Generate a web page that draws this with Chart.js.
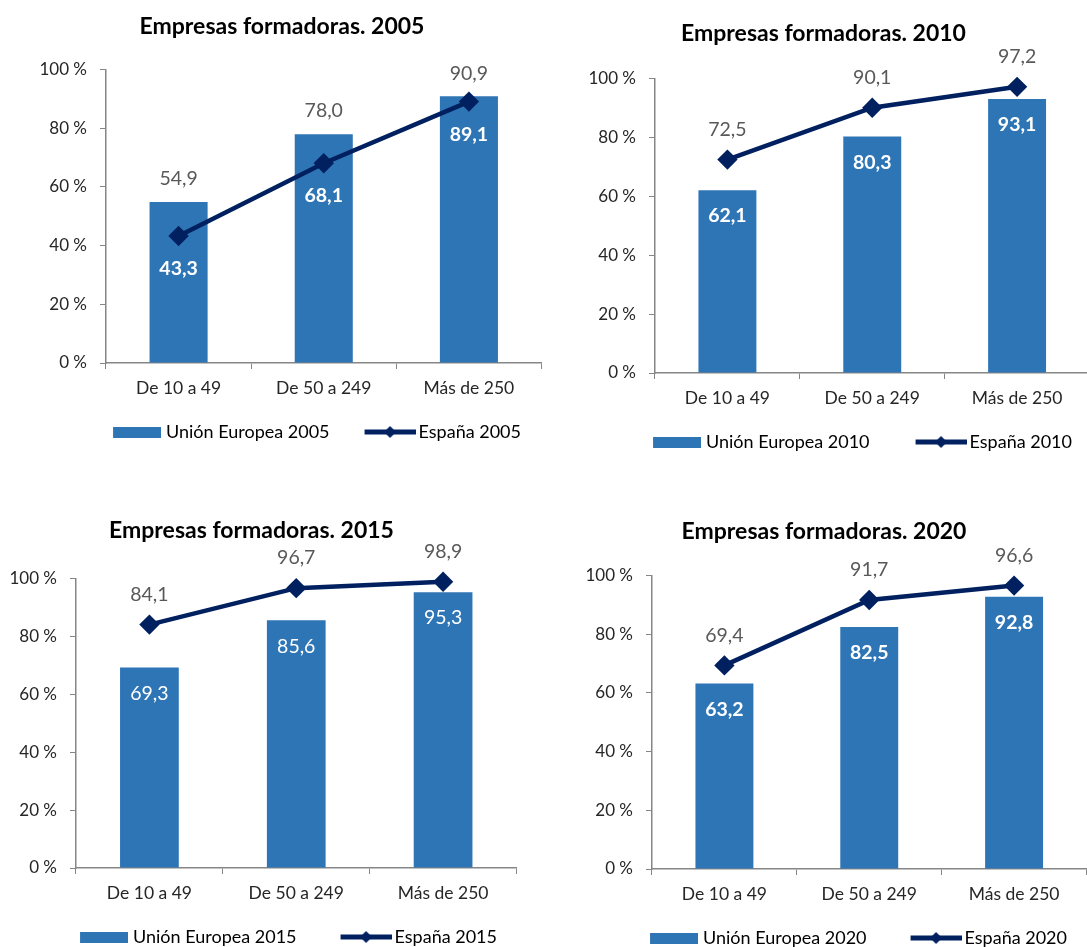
<!DOCTYPE html>
<html lang="es">
<head>
<meta charset="utf-8">
<title>Empresas formadoras</title>
<script src="https://cdn.jsdelivr.net/npm/chart.js@4.4.1/dist/chart.umd.min.js"></script>
<style>
  html, body { margin: 0; padding: 0; background: #fff; overflow: hidden; }
  body { width: 1087px; height: 947px; position: relative; }
  .panel { position: absolute; }
</style>
</head>
<body>
<div class="panel" id="p2005"><canvas id="c2005"></canvas></div>
<div class="panel" id="p2010"><canvas id="c2010"></canvas></div>
<div class="panel" id="p2015"><canvas id="c2015"></canvas></div>
<div class="panel" id="p2020"><canvas id="c2020"></canvas></div>
<script>
// data
const categories = ['De 10 a 49', 'De 50 a 249', 'Más de 250'];
const eu2005 = [54.9, 78.0, 90.9];
const es2005 = [43.3, 68.1, 89.1];
const eu2010 = [62.1, 80.3, 93.1];
const es2010 = [72.5, 90.1, 97.2];
const eu2015 = [69.3, 85.6, 95.3];
const es2015 = [84.1, 96.7, 98.9];
const eu2020 = [63.2, 82.5, 92.8];
const es2020 = [69.4, 91.7, 96.6];
const yMin = 0, yMax = 100, yStep = 20;

const BAR_BLUE = '#2E75B6';
const NAVY = '#002060';
const AXIS_GREY = '#868686';
const LABEL_GREY = '#595959';
const TEXT_DARK = '#262626';
const FONT = 'Lato, "Open Sans", sans-serif';

// where each panel sits and how its labels are styled
const panels = [
    { year: '2005', eu: eu2005, es: es2005, left: 11, top: 0, width: 542, height: 451,
      titlePad: { top: 13, bottom: 29 }, yWidth: 95, rightGap: 2, xHeight: 28,
      legendPad: 32, sampleWidth: 48,
      euLabel: { pos: 'above', color: LABEL_GREY, bold: false },
      esLabel: { pos: 'below', color: '#fff', bold: true } },
    { year: '2010', eu: eu2010, es: es2010, left: 546, top: 0, width: 555, height: 461,
      titlePad: { top: 20, bottom: 31 }, yWidth: 109, rightGap: 2, xHeight: 31,
      legendPad: 29, sampleWidth: 62,
      euLabel: { pos: 'inside', color: '#fff', bold: true },
      esLabel: { pos: 'above', color: LABEL_GREY, bold: false } },
    { year: '2015', eu: eu2015, es: es2015, left: -25, top: 490, width: 553, height: 466,
      titlePad: { top: 27, bottom: 34 }, yWidth: 101, rightGap: 2, xHeight: 29,
      legendPad: 31, sampleWidth: 58,
      euLabel: { pos: 'inside', color: '#fff', bold: false },
      esLabel: { pos: 'above', color: LABEL_GREY, bold: false } },
    { year: '2020', eu: eu2020, es: es2020, left: 550, top: 490, width: 548, height: 467,
      titlePad: { top: 28, bottom: 30 }, yWidth: 102, rightGap: 2, xHeight: 29,
      legendPad: 31, sampleWidth: 58,
      euLabel: { pos: 'inside', color: '#fff', bold: true },
      esLabel: { pos: 'above', color: LABEL_GREY, bold: false } }
];

// legend samples: a box for the bars, a line with a diamond for the line.
// both sit at the right of a wider transparent image so the gap
// between the two legend entries matches the original
function barSample(bw) {
    const c = document.createElement('canvas');
    c.width = bw + 8; c.height = 11;
    const g = c.getContext('2d');
    g.fillStyle = BAR_BLUE;
    g.fillRect(c.width - 48, 0, 48, 11);
    return c;
}
function lineSample(bw) {
    const c = document.createElement('canvas');
    c.width = bw + 12; c.height = 14;
    const g = c.getContext('2d');
    const x0 = c.width - 51, mid = c.width - 25.5;
    g.strokeStyle = NAVY;
    g.lineWidth = 5;
    g.beginPath(); g.moveTo(x0, 7); g.lineTo(c.width, 7); g.stroke();
    g.fillStyle = NAVY;
    g.beginPath(); g.moveTo(mid, 1); g.lineTo(mid + 6, 7); g.lineTo(mid, 13); g.lineTo(mid - 6, 7); g.closePath(); g.fill();
    return c;
}

const fmt = v => v.toFixed(1).replace('.', ',');

// value labels drawn next to bars and points
const valueLabels = {
    id: 'valueLabels',
    afterDatasetsDraw(chart, args, opts) {
        const ctx = chart.ctx;
        chart.data.datasets.forEach((ds, i) => {
            const meta = chart.getDatasetMeta(i);
            const st = opts.styles[i];
            meta.data.forEach((el, j) => {
                let y;
                if (meta.type === 'bar') {
                    y = st.pos === 'above' ? el.y - 23 : el.y + 26;
                } else {
                    y = st.pos === 'above' ? el.y - 30 : el.y + 33;
                }
                ctx.save();
                ctx.font = (st.bold ? 'bold ' : '') + '19.5px ' + FONT;
                ctx.fillStyle = st.color;
                ctx.textAlign = 'center';
                ctx.textBaseline = 'middle';
                ctx.fillText(fmt(ds.data[j]), el.x, y);
                ctx.restore();
            });
        });
    }
};

panels.forEach(p => {
    const box = document.getElementById('p' + p.year);
    box.style.left = p.left + 'px';
    box.style.top = p.top + 'px';
    box.style.width = p.width + 'px';
    box.style.height = p.height + 'px';

    const barImg = barSample(p.sampleWidth);
    const lineImg = lineSample(p.sampleWidth);

    new Chart(document.getElementById('c' + p.year), {
        type: 'bar',
        data: {
            labels: categories,
            datasets: [{
                label: 'Unión Europea ' + p.year,
                data: p.eu,
                backgroundColor: BAR_BLUE,
                categoryPercentage: 1,
                barPercentage: 0.4,
                order: 1
            }, {
                type: 'line',
                label: 'España ' + p.year,
                data: p.es,
                borderColor: NAVY,
                borderWidth: 4.5,
                pointStyle: 'rectRot',
                pointRadius: 7,
                pointBackgroundColor: NAVY,
                pointBorderColor: NAVY,
                clip: false,
                order: 0
            }]
        },
        options: {
            responsive: true,
            maintainAspectRatio: false,
            animation: false,
            layout: { padding: 0 },
            scales: {
                x: {
                    grid: { drawOnChartArea: false, tickLength: 6, color: AXIS_GREY, offset: true },
                    border: { color: AXIS_GREY, width: 1.5 },
                    // mirror + negative padding keeps the labels below the axis
                    // without clipping them to the (short) axis box
                    ticks: { color: TEXT_DARK, font: { family: FONT, size: 17.5 }, mirror: true, padding: -35.5 },
                    afterFit: s => { s.height = p.xHeight; }
                },
                y: {
                    min: yMin,
                    max: yMax,
                    ticks: {
                        stepSize: yStep,
                        color: TEXT_DARK,
                        font: { family: FONT, size: 17 },
                        padding: 13,
                        callback: v => v + ' %'
                    },
                    grid: { drawOnChartArea: false, tickLength: 6, color: AXIS_GREY },
                    border: { color: AXIS_GREY, width: 1.5 },
                    afterFit: s => { s.width = p.yWidth; }
                },
                yR: {
                    position: 'right',
                    grid: { display: false },
                    ticks: { display: false },
                    border: { display: false },
                    afterFit: s => { s.width = p.rightGap; }
                }
            },
            plugins: {
                title: {
                    display: true,
                    text: 'Empresas formadoras. ' + p.year,
                    color: '#000',
                    font: { family: FONT, size: 23, weight: 'bold' },
                    padding: p.titlePad
                },
                legend: {
                    position: 'bottom',
                    align: 'end',
                    labels: {
                        color: TEXT_DARK,
                        font: { family: FONT, size: 18 },
                        usePointStyle: true,
                        pointStyleWidth: p.sampleWidth,
                        padding: p.legendPad,
                        generateLabels: chart => [
                            { text: 'Unión Europea ' + p.year, pointStyle: barImg, datasetIndex: 0, lineWidth: 0, hidden: false },
                            { text: 'España ' + p.year, pointStyle: lineImg, datasetIndex: 1, lineWidth: 0, hidden: false }
                        ]
                    }
                },
                tooltip: { enabled: false },
                valueLabels: { styles: [p.euLabel, p.esLabel] }
            }
        },
        plugins: [valueLabels]
    });
});
</script>
</body>
</html>
